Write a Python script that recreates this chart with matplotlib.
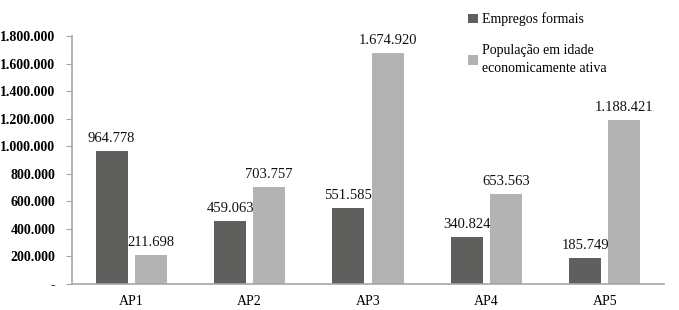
import matplotlib
matplotlib.use("Agg")
import matplotlib.pyplot as plt
import numpy as np
from matplotlib.ticker import FuncFormatter

plt.rcParams["font.family"] = ["Liberation Serif", "DejaVu Serif"]

DARK = "#5f605e"
LIGHT = "#b3b3b3"
AXIS = "#a6a6a6"

categories = ["AP1", "AP2", "AP3", "AP4", "AP5"]
empregos = [964778, 459063, 551585, 340824, 185749]
populacao = [211698, 703757, 1674920, 653563, 1188421]
series_names = ["Empregos formais", "População em idade\neconomicamente ativa"]


def fmt(v, pos=None):
    if v == 0:
        return "-"
    return f"{int(round(v)):,}".replace(",", ".")


fig = plt.figure(figsize=(6.79, 3.10), dpi=100)
ax = fig.add_axes([72 / 679, 26 / 310, 592 / 679, 248 / 310])

x = np.arange(len(categories))
w = 0.27
off = 0.165
b1 = ax.bar(x - off, empregos, w, color=DARK, label=series_names[0])
b2 = ax.bar(x + off, populacao, w, color=LIGHT, label=series_names[1])

for bars, vals in ((b1, empregos), (b2, populacao)):
    for r, v in zip(bars, vals):
        ax.text(r.get_x() + r.get_width() / 2, v + 45000, fmt(v),
                ha="center", va="bottom", fontsize=10.5, color="#111111")

ax.set_xlim(-0.5, len(categories) - 0.5)
ax.set_ylim(0, 1800000)
ax.set_yticks(np.arange(0, 1800001, 200000))
ax.yaxis.set_major_formatter(FuncFormatter(fmt))
ax.set_xticks(x)
ax.set_xticklabels(categories, fontsize=10)
ax.tick_params(axis="x", length=0, pad=8)
ax.tick_params(axis="y", length=4, color=AXIS, labelsize=10, pad=8)
for lab in ax.get_yticklabels():
    lab.set_fontweight("bold")

for name in ("top", "right"):
    ax.spines[name].set_visible(False)
for name in ("left", "bottom"):
    ax.spines[name].set_color(AXIS)
    ax.spines[name].set_linewidth(1.2)

leg = ax.legend(loc="upper left", bbox_to_anchor=(456 / 679, 1.0), bbox_transform=fig.transFigure,
                frameon=False, fontsize=10, handlelength=0.7, handleheight=0.7,
                handletextpad=0.3, labelspacing=1.3)
for t in leg.get_texts():
    t.set_linespacing(1.5)

fig.savefig("out.png", dpi=100)
